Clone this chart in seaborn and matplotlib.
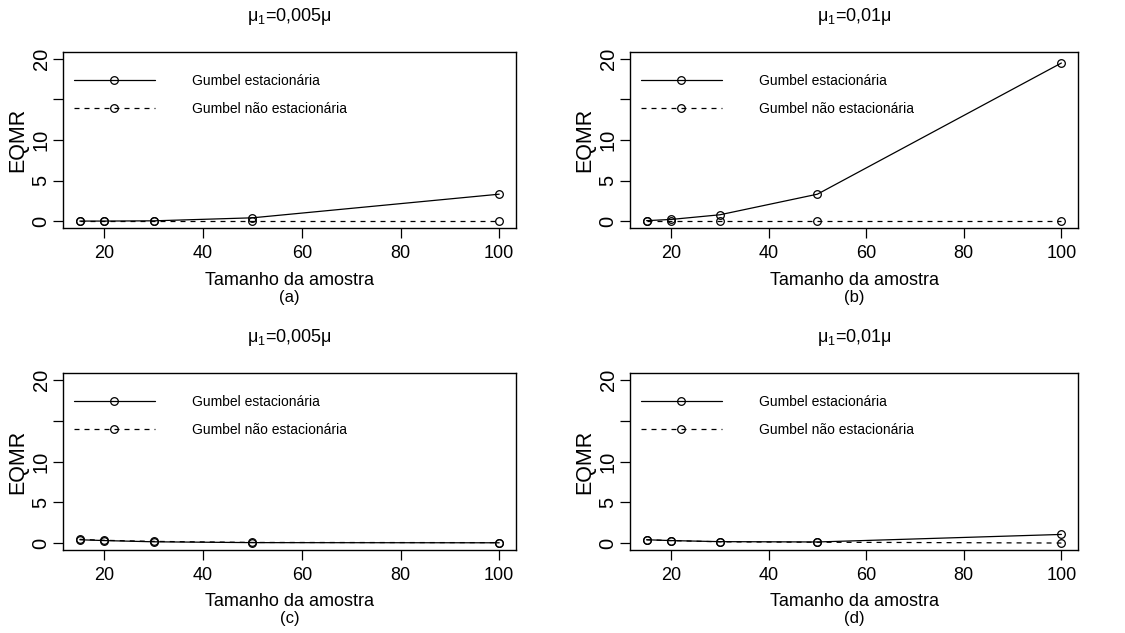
import matplotlib
matplotlib.use("Agg")
import matplotlib.pyplot as plt
import seaborn as sns
import pandas as pd

sns.set_style("white")
plt.rcParams['font.family'] = ['Liberation Sans', 'DejaVu Sans']
plt.rcParams['mathtext.fontset'] = 'custom'
plt.rcParams['mathtext.rm'] = 'Liberation Sans'
for key in ['text.color', 'axes.labelcolor', 'xtick.color', 'ytick.color', 'axes.edgecolor']:
    plt.rcParams[key] = 'black'

sample_sizes = [15, 20, 30, 50, 100]

panel_titles = ["μ$_{\\mathregular{1}}$=0,005μ", "μ$_{\\mathregular{1}}$=0,01μ",
                "μ$_{\\mathregular{1}}$=0,005μ", "μ$_{\\mathregular{1}}$=0,01μ"]
panel_tags = ["(a)", "(b)", "(c)", "(d)"]

stat_a = [0.05, 0.05, 0.08, 0.45, 3.35]
nonstat_a = [0.02, 0.02, 0.02, 0.02, 0.02]
stat_b = [0.10, 0.25, 0.82, 3.35, 19.45]
nonstat_b = [0.02, 0.02, 0.02, 0.02, 0.02]
stat_c = [0.45, 0.35, 0.20, 0.10, 0.08]
nonstat_c = [0.50, 0.38, 0.25, 0.12, 0.10]
stat_d = [0.45, 0.35, 0.22, 0.18, 1.10]
nonstat_d = [0.45, 0.35, 0.20, 0.15, 0.05]

stat_series = [stat_a, stat_b, stat_c, stat_d]
nonstat_series = [nonstat_a, nonstat_b, nonstat_c, nonstat_d]

label_stat = "Gumbel estacionária"
label_nonstat = "Gumbel não estacionária"

y_ticks = [0, 5, 10, 15, 20]
y_ticklabels = ["0", "5", "10", "", "20"]
x_ticks = [20, 40, 60, 80, 100]

W, H = 1125, 633
fig = plt.figure(figsize=(W / 100, H / 100), dpi=100)

# pixel boxes: left, top, right, bottom
boxes = [(63, 52, 516, 228), (630, 52, 1078, 228),
         (63, 373, 516, 550), (630, 373, 1078, 550)]
ylabel_offset = 35

for i, (l, t, r, b) in enumerate(boxes):
    ax = fig.add_axes([l / W, 1 - b / H, (r - l) / W, (b - t) / H])
    df = pd.DataFrame({"n": sample_sizes, "stat": stat_series[i], "nonstat": nonstat_series[i]})
    sns.lineplot(data=df, x="n", y="stat", ax=ax, color="black", lw=0.9,
                 marker="o", ms=5.5, mfc="none", mec="black", mew=0.9,
                 label=label_stat)
    sns.lineplot(data=df, x="n", y="nonstat", ax=ax, color="black", lw=0.9,
                 linestyle=(0, (4, 4)), marker="o", ms=5.5, mfc="none", mec="black",
                 mew=0.9, label=label_nonstat)
    ax.set_xlim(11.6, 103.4)
    ax.set_ylim(-0.8, 20.8)
    ax.set_xticks(x_ticks)
    ax.set_xticklabels([str(v) for v in x_ticks], fontsize=13)
    ax.set_yticks(y_ticks)
    ax.set_yticklabels(y_ticklabels, fontsize=14.5, rotation=90, va="center")
    ax.tick_params(axis="both", direction="out", length=7, width=0.9, color="black",
                   labelcolor="black", left=True, bottom=True)
    ax.tick_params(axis="x", pad=5)
    ax.tick_params(axis="y", pad=2)
    for sp in ax.spines.values():
        sp.set_visible(True)
        sp.set_color("black")
        sp.set_linewidth(1.0)
    hpx = b - t
    wpx = r - l
    ax.set_xlabel("")
    ax.set_ylabel("EQMR", fontsize=15.5, color="black")
    ax.yaxis.set_label_coords(-ylabel_offset / wpx, 0.5)
    top_row = i < 2
    ax.text(0.5, 1 + (35 if top_row else 36) / hpx, panel_titles[i], transform=ax.transAxes,
            ha="center", va="center", fontsize=13, color="black")
    ax.text(0.5, -53 / hpx if top_row else -51 / hpx, "Tamanho da amostra",
            transform=ax.transAxes, ha="center", va="center", fontsize=13, color="black")
    ax.text(0.5, -70 / hpx if top_row else -68 / hpx, panel_tags[i],
            transform=ax.transAxes, ha="center", va="center", fontsize=12, color="black")
    leg = ax.legend(loc="upper left", bbox_to_anchor=(11 / wpx, 1 - 22 / hpx),
                    frameon=False, fontsize=10, handlelength=5.8, handletextpad=2.7,
                    labelspacing=1.0, borderpad=0, borderaxespad=0, numpoints=1)
    for txt in leg.get_texts():
        txt.set_color("black")

fig.savefig("out.png", dpi=100, facecolor="white")
